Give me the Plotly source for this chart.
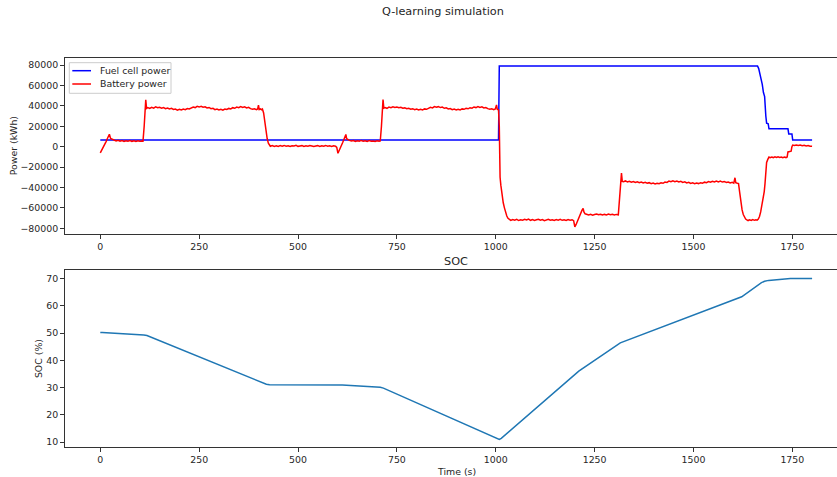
import plotly.graph_objects as go

# ---- Fuel cell power (W) ----
t_fc = [0, 1007, 1009, 1662, 1665, 1668, 1671, 1674, 1677, 1680, 1683, 1685,
        1689, 1691, 1739, 1741, 1749, 1751, 1800]
p_fc = [6500, 6500, 79000, 79000, 76500, 72000, 67000, 61000, 53000, 49000,
        30000, 23000, 22500, 17500, 17500, 12500, 12500, 6500, 6500]

# ---- Battery power (W) ----
t_batt = [
    0, 3, 6, 9, 12, 15, 18, 21, 23, 26, 30, 35, 40, 45, 50, 55, 60, 65, 70, 75,
    80, 85, 90, 95, 100, 105, 108, 111, 113, 115, 117,
    120, 125, 130, 135, 140, 145, 150, 155, 160, 165, 170, 175, 180, 185, 190,
    195, 200, 205, 210, 215, 220, 225, 230, 235, 240, 245, 250, 255, 260, 265,
    270, 275, 280, 285, 290, 295, 300, 305, 310, 315, 320, 325, 330, 335, 340,
    345, 350, 355, 360, 365, 370, 375, 380, 385, 390, 395, 398, 400, 402, 405,
    408, 410, 413, 416, 419, 422, 425, 428,
    430, 435, 440, 445, 450, 455, 460, 465, 470, 475, 480, 485, 490, 495, 500,
    505, 510, 515, 520, 525, 530, 535, 540, 545, 550, 555, 560, 565, 570, 575,
    580, 585, 590, 595, 598, 601, 604, 607, 610, 613, 616, 619, 621, 623, 626,
    630, 635, 640, 645, 650, 655, 660, 665, 670, 675, 680, 685, 690, 695, 700,
    705, 708, 711, 713, 715, 717,
    720, 725, 730, 735, 740, 745, 750, 755, 760, 765, 770, 775, 780, 785, 790,
    795, 800, 805, 810, 815, 820, 825, 830, 835, 840, 845, 850, 855, 860, 865,
    870, 875, 880, 885, 890, 895, 900, 905, 910, 915, 920, 925, 930, 935, 940,
    945, 950, 955, 960, 965, 970, 975, 980, 985, 990, 995, 999, 1002, 1004, 1007,
    1009, 1010, 1011, 1013, 1016, 1019, 1022, 1025, 1028, 1031, 1034,
    1038, 1043, 1048, 1053, 1058, 1063, 1068, 1073, 1078, 1083, 1088, 1093, 1098,
    1103, 1108, 1113, 1118, 1123, 1128, 1133, 1138, 1143, 1148, 1153, 1158, 1163,
    1168, 1173, 1178, 1183, 1188, 1193, 1197,
    1200, 1203, 1206, 1209, 1212, 1215, 1218, 1221, 1223, 1226,
    1230, 1235, 1240, 1245, 1250, 1255, 1260, 1265, 1270, 1275, 1280, 1285, 1290,
    1295, 1300, 1305, 1310, 1313, 1316, 1318, 1320,
    1323, 1328, 1333, 1338, 1343, 1348, 1353, 1358, 1363, 1368, 1373, 1378, 1383,
    1388, 1393, 1398, 1403, 1408, 1413, 1418, 1423, 1428, 1433, 1438, 1443, 1448,
    1453, 1458, 1463, 1468, 1473, 1478, 1483, 1488, 1493, 1498, 1503, 1508, 1513,
    1518, 1523, 1528, 1533, 1538, 1543, 1548, 1553, 1558, 1563, 1568, 1573, 1578,
    1583, 1588, 1593, 1598, 1602, 1605, 1607, 1611, 1614,
    1617, 1620, 1623, 1626, 1629, 1632, 1635,
    1638, 1642, 1646, 1650, 1654, 1658, 1661,
    1664, 1667, 1670, 1673, 1676, 1679, 1681, 1683, 1685, 1688, 1691,
    1694, 1698, 1702, 1706, 1710, 1714, 1718, 1722, 1726, 1730, 1734, 1737,
    1739, 1743, 1747, 1749, 1751,
    1755, 1760, 1765, 1770, 1775, 1780, 1785, 1790, 1795, 1800,
]
p_batt = [
    -6000, -4000, -1800, 500, 2800, 5200, 8000, 11500, 12200, 8000, 7200, 6300,
    5600, 6200, 5300, 5900, 5100, 5800, 5400, 6000, 5200, 5700, 5000, 5800, 5300,
    5600, 5400, 20000, 38000, 46000, 37500,
    38200, 37400, 38600, 37800, 39000, 38100, 38600, 37700, 38400, 37300, 37900,
    36900, 37500, 36400, 36900, 35800, 36600, 35900, 36800, 36300, 37400, 36900,
    38100, 38900, 38300, 39500, 38800, 39600, 38700, 39100, 37900, 38400, 37200,
    37600, 36300, 36900, 35900, 36700, 35800, 36900, 36400, 37500, 37000, 38200,
    37600, 38800, 38200, 39300, 38400, 39100, 38000, 38600, 37300, 36600, 37200,
    36300, 36900, 40800, 36400, 37000, 36200, 36800, 33000, 24000, 14000, 8000,
    3500, 1200,
    400, 1100, 300, 900, 200, 1000, 500, 1200, 400, 800, 100, 900, 600, 1300, 300,
    700, 1000, 200, 800, 400, 1100, 600, 100, 700, 1000, 300, 900, 500, 1200, 400,
    800, 200, 900, 500, -800, -6500, -4200, -1500, 1200, 4000, 7000, 10500, 12000,
    7800, 7000,
    6200, 5500, 6000, 5200, 5800, 5300, 6100, 5400, 5700, 5100, 5900, 5300, 5600,
    5000, 5800, 5300, 5600, 20000, 37000, 46200, 37800,
    38400, 37600, 38800, 38200, 39100, 38400, 38900, 38100, 38600, 37600, 38000,
    37100, 37600, 36700, 37200, 36200, 36800, 35900, 36600, 36000, 37000, 36600,
    37800, 38500, 38000, 39300, 38600, 39200, 38300, 38800, 37600, 38100, 37000,
    37400, 36200, 36800, 35900, 36700, 36000, 37000, 36600, 37600, 37100, 38200,
    37700, 38900, 38300, 39300, 38500, 39000, 37900, 38400, 37300, 36600, 37100,
    36200, 36900, 41000, 36500, 36200,
    20000, -10000, -30000, -38000, -48000, -55000, -60000, -64500, -68000, -70200,
    -71500,
    -72300, -71400, -72000, -71200, -72400, -71600, -72100, -71300, -71900, -71000,
    -72200, -71500, -72300, -71700, -71100, -72000, -71400, -72500, -71800, -71200,
    -72100, -71600, -72400, -71500, -72000, -71300, -72200, -71700, -72300, -71400,
    -72000, -71600, -72500,
    -78500, -76500, -73500, -70500, -67500, -65000, -62500, -60500, -64000, -65800,
    -66200, -66900, -66300, -67100, -66500, -66000, -66800, -66200, -67000, -66400,
    -66900, -66100, -66700, -66300, -67000, -66400, -66800, -50000, -36000, -26000,
    -34000,
    -34400, -33600, -34500, -33900, -34800, -34100, -35000, -34400, -35300, -34600,
    -35600, -35000, -35900, -35300, -36300, -35700, -36600, -35900, -36400, -35500,
    -35900, -34700, -35000, -33800, -34400, -33500, -34300, -33700, -34600, -34000,
    -35000, -34500, -35600, -35000, -36100, -35500, -36400, -35700, -36200, -35300,
    -35800, -34800, -35300, -34300, -34900, -33900, -34600, -33700, -34500, -33800,
    -34700, -34100, -35100, -34600, -35600, -35000, -35800, -30500, -35300, -35900,
    -36200,
    -45000, -55000, -62000, -66500, -69500, -71000, -71800,
    -72400, -71600, -72300, -71500, -72200, -71700, -72000,
    -71000, -68500, -64000, -58000, -51000, -44000, -36000, -25000, -15500, -12500,
    -10200,
    -10800, -10100, -10700, -10000, -10600, -9900, -10500, -10100, -10800, -10200,
    -10700, -10100,
    -5200, -4800, -4400, 0, 1600,
    1200, 1700, 1100, 1500, 900, 1300, 700, 1100, 500, 300,
]

# ---- State of charge (%) ----
t_soc = [0, 5, 110, 118, 420, 428, 612, 620, 708, 716, 1004, 1009, 1014, 1210,
         1315, 1612, 1622, 1672, 1680, 1690, 1745, 1800]
soc = [50.2, 50.2, 49.3, 49.1, 31.2, 31.0, 30.95, 30.9, 30.1, 29.8, 11.4, 11.0,
       11.4, 36.0, 46.4, 62.6, 63.3, 68.5, 69.0, 69.3, 70.0, 70.0]

x_ticks = [0, 250, 500, 750, 1000, 1250, 1500, 1750]
power_ticks = [-80000, -60000, -40000, -20000, 0, 20000, 40000, 60000, 80000]
soc_ticks = [10, 20, 30, 40, 50, 60, 70]

W, H = 837, 477
FONT = "DejaVu Sans"
INK = "#262626"
SPINE = "#333333"


def px(x):
    return x / W


def py(y):
    return 1 - y / H


fig = go.Figure()
fig.add_trace(go.Scatter(x=t_fc, y=p_fc, mode="lines", name="Fuel cell power",
                         line=dict(color="#0000ff", width=1.5),
                         xaxis="x", yaxis="y"))
fig.add_trace(go.Scatter(x=t_batt, y=p_batt, mode="lines", name="Battery power",
                         line=dict(color="#ff0000", width=1.5),
                         xaxis="x", yaxis="y"))
fig.add_trace(go.Scatter(x=t_soc, y=soc, mode="lines", name="SOC",
                         line=dict(color="#1f77b4", width=1.5),
                         xaxis="x2", yaxis="y2"))

axis_common = dict(
    showgrid=False, zeroline=False, showline=True, linecolor=SPINE,
    linewidth=1, ticks="outside", ticklen=3.5, tickwidth=0.8,
    tickcolor=SPINE, tickfont=dict(family=FONT, size=9.4, color=INK),
)

x_dom = [px(64.5), 1.0]
x_range = [-90.5, 1863]

fig.update_layout(
    width=W, height=H,
    margin=dict(l=0, r=0, t=0, b=0),
    paper_bgcolor="white", plot_bgcolor="white",
    showlegend=False,
    xaxis=dict(domain=x_dom, range=x_range, anchor="y", mirror=True,
               tickvals=x_ticks, ticktext=[str(v) for v in x_ticks],
               **axis_common),
    yaxis=dict(domain=[py(234.3), py(58.3)], range=[-85900, 86600],
               anchor="x", tickvals=power_ticks,
               ticktext=[f"{v}".replace("-", "\u2212") for v in power_ticks],
               **axis_common),
    xaxis2=dict(domain=x_dom, range=x_range, anchor="y2", mirror=True,
                tickvals=x_ticks, ticktext=[str(v) for v in x_ticks],
                **axis_common),
    yaxis2=dict(domain=[py(447.3), py(270.3)], range=[8.1, 73.0],
                anchor="x2", tickvals=soc_ticks,
                ticktext=[str(v) for v in soc_ticks], **axis_common),
)

annotations = [
    dict(text="Q-learning simulation", x=px(443), y=py(12), size=11.3),
    dict(text="SOC", x=px(456), y=py(261), size=11.3),
    dict(text="Time (s)", x=px(456), y=py(471), size=9.4),
    dict(text="Power (kWh)", x=px(13), y=py(146.3), size=9.4, angle=-90),
    dict(text="SOC (%)", x=px(38.3), y=py(358.8), size=9.4, angle=-90),
]
for a in annotations:
    fig.add_annotation(
        text=a["text"], x=a["x"], y=a["y"], xref="paper", yref="paper",
        xanchor="center", yanchor="middle", showarrow=False,
        textangle=a.get("angle", 0),
        font=dict(family=FONT, size=a["size"], color=INK),
    )

# legend frame with line samples and labels
fig.add_shape(type="rect", xref="paper", yref="paper",
              x0=px(69.3), x1=px(171), y0=py(93.3), y1=py(62.7),
              line=dict(color="#cccccc", width=1), fillcolor="rgba(255,255,255,0.8)")
legend_items = [("Fuel cell power", "#0000ff", 70.7),
                ("Battery power", "#ff0000", 84.0)]
for label, color, yy in legend_items:
    fig.add_shape(type="line", xref="paper", yref="paper",
                  x0=px(72.3), x1=px(91), y0=py(yy), y1=py(yy),
                  line=dict(color=color, width=1.5))
    fig.add_annotation(text=label, x=px(98.3), y=py(yy), xref="paper",
                       yref="paper", xanchor="left", yanchor="middle",
                       showarrow=False,
                       font=dict(family=FONT, size=9.4, color=INK))

fig.write_html("out.html")
